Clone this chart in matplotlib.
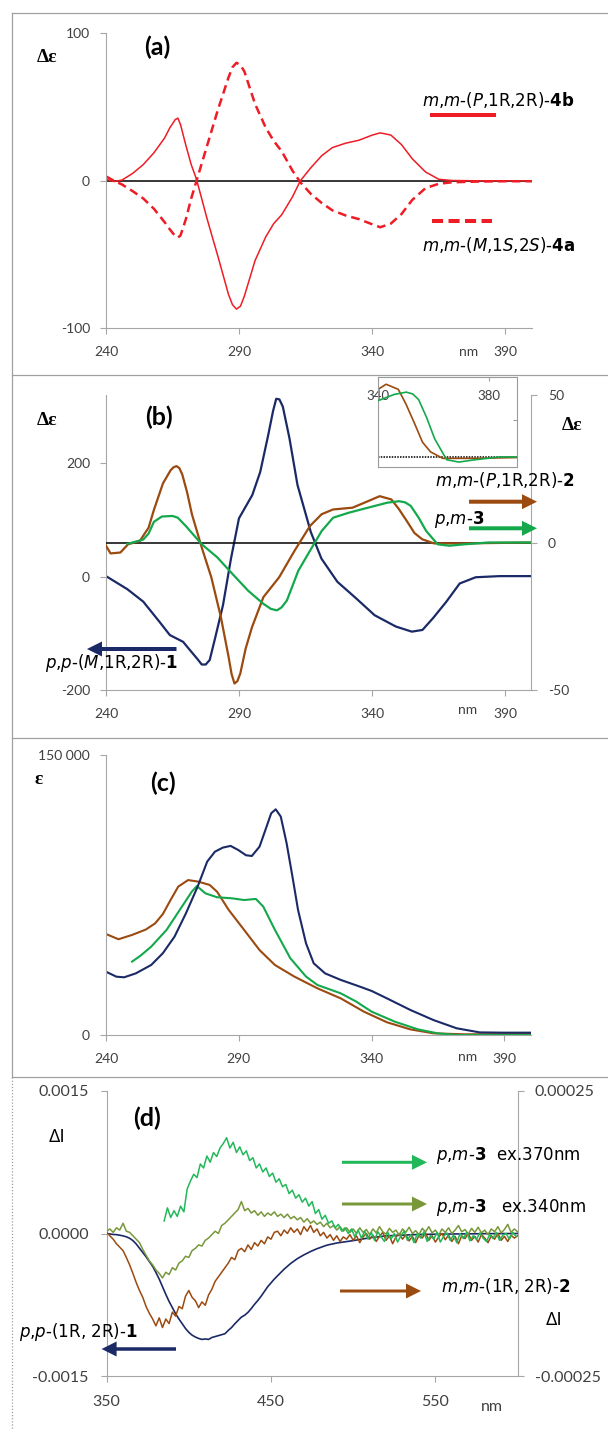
import numpy as np
import matplotlib
matplotlib.use('Agg')
import matplotlib.pyplot as plt
from matplotlib.lines import Line2D
from matplotlib.patches import FancyArrowPatch
from matplotlib.ticker import StrMethodFormatter

# ---- (a) CD, m,m-4b (solid) and m,m-4a (dashed)
wl_a = [240, 243, 246, 250, 254, 258, 262, 264, 266, 267, 268, 270, 272, 274, 278, 282,
        286, 287.5, 289, 290.5, 292, 296, 300, 303, 306, 310, 313, 317, 321, 325, 330,
        335, 340, 343, 347, 351, 355, 360, 365, 370, 380, 390, 400]
cd_4b = [1, -0.5, 0.5, 5, 11, 19, 29, 36, 41.5, 42.5, 38, 24, 11, 1, -26, -51,
         -77, -84, -87, -85, -78, -54, -38, -29, -23, -11, 0, 9, 17, 22.5, 25.5,
         27.5, 31, 32.5, 31, 24.5, 15, 6, 1, 0.2, 0, 0, 0]
cd_4a = [3, 0, -2.5, -7, -12, -19, -28, -33, -37.5, -38.5, -37, -26, -12, 0, 24, 48,
         70, 77, 80, 78.5, 74, 52, 36, 27, 20, 7, -1, -9, -15, -20, -23.5,
         -26, -29.5, -31.5, -29, -22.5, -13, -5, -2, -1, -0.5, -0.3, -0.3]

# ---- (b) CD, p,p-1 (left axis), m,m-2 and p,m-3 (right axis)
wl_b1 = [240, 248, 254, 260, 264, 269, 272, 274.5, 276, 277.5, 279, 281, 284, 287, 290,
         295, 298, 301, 302.8, 304, 305.2, 306.5, 309, 312, 317, 321, 327, 334, 341, 349,
         355, 359, 363, 368, 373, 379, 388, 400]
cd_1 = [1, -22, -44, -79, -103, -115, -132, -146, -155, -155, -147, -109, -50, 32, 103,
        144, 185, 250, 292, 314, 313, 300, 244, 162, 79, 32, -9, -38, -68, -88,
        -97, -94, -73, -44, -12, -1, 1, 1]
wl_b2 = [240, 241.7, 245.4, 248.3, 252.7, 256, 258, 261.4, 264.3, 265.4, 266.5, 267.6,
         268.7, 270.5, 272.3, 276, 279.6, 283.2, 286.1, 287.2, 288.3, 289.4, 290.5, 292.5,
         294.9, 299.2, 305.1, 310.9, 316.7, 321.1, 325.4, 332.7, 338.5, 342.9, 347.3, 350,
         353.1, 356, 358.9, 363.3, 374.9, 400]
cd_2 = [-1.1, -3.7, -3.4, -0.6, 0.5, 5, 11, 20, 24.5, 25.5, 25.9, 25.2,
        23, 17, 9.6, -1.7, -11.8, -25.3, -38.8, -44.5, -47.8, -47, -44.4, -36,
        -28.7, -18.5, -11.8, -2.8, 5.6, 9.6, 11.2, 11.8, 14, 15.7, 14.6, 11.5,
        7.3, 3.2, 1.1, -0.3, -0.3, 0]
wl_b3 = [248, 252, 254, 256, 258, 261, 265, 267, 270, 273, 276, 281.8, 287.6, 293.4,
         299.2, 302, 304.3, 306, 308, 310, 312.3, 316.7, 321.1, 325.4, 331.3, 338.5,
         345.8, 350.2, 352.5, 354.6, 357.5, 360.4, 364.7, 369.1, 374.9, 383.7, 400]
cd_3 = [-0.5, 0.5, 1, 3, 7, 8.8, 9, 8.4, 5.6, 2.5, -0.6, -5, -10.7, -16.3,
        -20.8, -22.5, -23, -22, -19.7, -15, -9.6, -2.8, 3.9, 8.4, 10.1, 11.8,
        13.5, 14, 13.6, 12.4, 8.5, 3.9, -0.6, -1.1, -0.6, 0, 0]

# ---- (c) UV absorption
wl_c1 = [240, 243.9, 246.8, 251.2, 257, 261.4, 265.8, 270.1, 274.5, 278.1, 281, 284,
         286.9, 289.8, 292.7, 294.9, 297.8, 300, 302.2, 303.9, 305.8, 308, 310.2, 312.3,
         315.3, 318.2, 322.5, 328.4, 335.6, 340, 345.8, 354.6, 363.3, 372, 380.7, 389.5, 400]
eps_1 = [33900, 31250, 30900, 33000, 37500, 43800, 52700, 65200, 79500, 92900, 98200, 100400,
         101300, 99100, 96300, 95900, 100900, 109800, 118800, 120900, 117000, 102700, 84800, 67000,
         49100, 38400, 33000, 29500, 25900, 23600, 19600, 13400, 8000, 3600, 1400, 1250, 1250]
wl_c2 = [240, 244.7, 249.8, 255, 258.5, 261.4, 264.3, 267.2, 270.9, 274.6, 279, 281.8,
         286.2, 292, 297.8, 303.6, 310.9, 319.6, 328.4, 337.1, 345.8, 354.6, 363.3, 374.9, 400]
eps_2 = [54100, 51300, 53600, 56500, 59800, 64800, 72300, 79500, 83000, 82200, 80400, 76800,
         67000, 56300, 45500, 37500, 31300, 25000, 19600, 12500, 6800, 3000, 900, 360, 540]
wl_c3 = [249.8, 253, 257, 262.8, 268.6, 272.3, 274.2, 277.4, 281.8, 287.6, 292, 296.4,
         299.2, 303.6, 309.4, 315.3, 319.6, 328.4, 334.2, 340, 348.8, 357.5, 364.8, 372, 400]
eps_3 = [39300, 42500, 47300, 56300, 68800, 76800, 79800, 75900, 73800, 73200, 72300, 72900,
         68800, 56300, 41100, 31300, 26800, 22300, 17900, 12500, 7100, 3000, 900, 0, 0]

# ---- (d) CPL, values in units of 1e-6
# p,m-3 ex.370nm, 385..599 nm every 2 nm
dI_3_370 = [22, 45, 28, 40, 30, 48, 38, 78, 92, 104,
            98, 122, 115, 136, 125, 142, 135, 150, 158, 168,
            150, 160, 142, 152, 138, 145, 128, 133, 115, 122,
            108, 115, 100, 106, 90, 96, 82, 86, 70, 76,
            62, 68, 55, 62, 48, 56, 35, 42, 25, 32,
            18, 22, 10, 16, 4, 10, 0, 8, -6, 6,
            -8, 4, -10, 2, -12, 3, -6, -14, 2, -10,
            0, -15, -4, 4, -12, -2, -16, 0, -8, 3,
            -14, -4, -10, 2, -15, -5, 1, -12, -3, -16,
            0, -9, 2, -13, -4, -10, 1, -8, -14, -2,
            -9, 2, -12, -3, 0, -10, 2, -5]
# p,m-3 ex.340nm, 350..600 nm every 2 nm
dI_3_340 = [4, 8, 2, 10, 6, 18, 4, 2, -4, -10,
            -16, -28, -38, -48, -55, -64, -70, -78, -68, -72,
            -60, -64, -52, -48, -40, -42, -30, -26, -20, -22,
            -12, -8, -2, 4, 0, 14, 18, 24, 30, 36,
            42, 56, 40, 44, 36, 40, 32, 38, 30, 36,
            32, 38, 30, 34, 28, 34, 26, 30, 24, 28,
            20, 26, 18, 22, 16, 20, 12, 18, 10, 14,
            6, 12, 4, 10, 2, 8, 0, 10, 2, 7,
            -2, 8, 1, 12, 3, -1, 9, 2, 6, -3,
            8, 2, 11, 0, 5, -2, 9, 3, 12, 1,
            6, -3, 8, 2, 10, 0, 6, 14, 3, 7,
            -1, 9, 2, 11, 1, 6, -2, 8, 3, 12,
            1, 7, 16, 2, 8, 3]
# m,m-2, 350..600 nm every 2 nm
dI_2 = [2, -4, -10, -18, -24, -30, -42, -55, -70, -86,
        -100, -112, -128, -140, -150, -162, -148, -165, -150, -158,
        -138, -145, -128, -132, -110, -100, -112, -118, -130, -120,
        -126, -108, -98, -84, -76, -68, -60, -52, -42, -46,
        -30, -26, -32, -20, -28, -16, -22, -12, -18, -6,
        -10, 2, 4, -4, 6, 0, 10, 2, 8, -2,
        12, 4, 14, 2, 8, -4, 2, -8, -2, -12,
        -4, -14, -6, -10, -2, -12, -4, -16, -6, 0,
        -10, -3, -14, -5, 2, -12, -4, -18, -6, 0,
        -10, -2, -13, -5, -16, -3, -8, 1, -12, -4,
        -15, -6, 0, -11, -3, -14, -5, -18, -4, -9,
        0, -12, -5, -15, -2, -8, -16, -4, -10, 0,
        -12, -5, -14, -3, -8, -4]
# p,p-1 (left axis)
wl_d1 = [350, 352, 354, 356, 358, 360, 362, 364, 366, 368,
         370, 372, 374, 376, 378, 380, 382, 384, 386, 388,
         390, 392, 394, 396, 398, 400, 402, 404, 406, 408,
         410, 412, 414, 416, 418, 420, 422, 424, 426, 428,
         430, 432, 434, 436, 438, 440, 442, 444, 446, 448,
         450, 452, 454, 456, 458, 460, 462, 464, 466, 468,
         470, 472, 474, 476, 478, 480, 482, 484, 486, 488,
         490, 492, 494, 496, 498, 500, 510, 520, 540, 560, 580, 600]
dI_1 = [0, -5, -10, -12, -18, -25, -35, -50, -75, -110,
        -155, -200, -245, -295, -345, -410, -480, -560, -640, -715,
        -780, -845, -900, -950, -1000, -1040, -1070, -1090, -1105, -1115,
        -1110, -1115, -1095, -1085, -1075, -1065, -1055, -1020, -990, -950,
        -915, -880, -860, -830, -790, -745, -705, -660, -610, -560,
        -520, -480, -445, -410, -375, -345, -315, -290, -265, -245,
        -225, -208, -190, -175, -160, -148, -135, -123, -115, -108,
        -100, -95, -90, -85, -80, -75, -45, -25, -10, -5, -2, 0]

W, H = 608, 1430
RED = '#ee1c25'
NAVY = '#1b2a66'
BROWN = '#9b4a10'
GREEN = '#14a84c'
GREEN_D = '#22b85a'
OLIVE = '#78983a'
AXC = '#a6a6a6'
TXT = '#404040'
FRAME = '#a0a0a0'

plt.rcParams['font.family'] = ['Lato', 'DejaVu Sans']
plt.rcParams['axes.unicode_minus'] = False
plt.rcParams['mathtext.fontset'] = 'dejavusans'

fig = plt.figure(figsize=(W / 100, H / 100), dpi=100)
fig.patch.set_facecolor('white')


def fx(x):
    return x / W


def fy(y):
    return 1 - y / H


def add_ax(l, t, r, b):
    return fig.add_axes([fx(l), fy(b), (r - l) / W, (b - t) / H])


def style(ax, size=10, xpad=8.5, ypad=7.2):
    ax.set_facecolor('none')
    ax.spines['top'].set_visible(False)
    ax.spines['right'].set_visible(False)
    ax.spines['left'].set_color(AXC)
    ax.spines['bottom'].set_color(AXC)
    ax.tick_params(colors=AXC, labelcolor=TXT, labelsize=size, length=4.3, width=0.8)
    ax.tick_params(axis='x', pad=xpad)
    ax.tick_params(axis='y', pad=ypad)


def style_right(ax2, size=10, pad=7.6):
    for s in ['top', 'left', 'bottom']:
        ax2.spines[s].set_visible(False)
    ax2.spines['right'].set_color(AXC)
    ax2.tick_params(axis='y', colors=AXC, labelcolor=TXT, labelsize=size,
                    length=4.3, width=0.8, pad=pad)


def text(x, y, s, size=12, ha='left', **kw):
    fig.text(fx(x), fy(y), s, ha=ha, va='center', fontsize=size, **kw)


def arrow(x0, x1, y, color, tail=4, head=15):
    fig.add_artist(FancyArrowPatch(
        (fx(x0), fy(y)), (fx(x1), fy(y)), transform=fig.transFigure,
        arrowstyle=f'simple,head_length={head},head_width={head},tail_width={tail}',
        mutation_scale=0.72, color=color, shrinkA=0, shrinkB=0, lw=0))


# panel frames
for yy in [13, 375, 738, 1077]:
    fig.add_artist(Line2D([fx(11.5), 1], [fy(yy)] * 2, color=FRAME, lw=0.9))
fig.add_artist(Line2D([fx(11.5)] * 2, [fy(13), fy(1077)], color=FRAME, lw=0.9))
fig.add_artist(Line2D([fx(11.5)] * 2, [fy(1077), fy(1430)], color=FRAME, lw=0.9,
                      ls=(0, (1, 1.5))))

LAB = dict(family='DejaVu Sans', color='black')
PANEL = dict(family='Lato', weight='bold', size=18)
DEPS = dict(family='Liberation Serif', weight='bold', size=14, ha='center')

# ---------------- (a)
ax = add_ax(106, 33.3, 532, 328.3)
style(ax)
ax.axhline(0, color='black', lw=1.1, zorder=1)
ax.plot(wl_a, cd_4b, color=RED, lw=1.1, zorder=2)
ax.plot(wl_a, cd_4a, color=RED, lw=1.8, ls=(0, (3.5, 2)), zorder=2)
ax.set_xlim(240, 400)
ax.set_ylim(-100, 100)
ax.set_xticks([240, 290, 340, 390])
ax.set_yticks([-100, 0, 100])
text(157, 47, '(a)', ha='center', **PANEL)
text(47, 58, 'Δε', **DEPS)
text(469, 352, 'nm', size=10, ha='center', color=TXT)
text(422, 100, r'$\mathit{m}$,$\mathit{m}$-($\mathit{P}$,1R,2R)-$\mathbf{4b}$', **LAB)
text(422, 245, r'$\mathit{m}$,$\mathit{m}$-($\mathit{M}$,1$\mathit{S}$,2$\mathit{S}$)-$\mathbf{4a}$',
     **LAB)
fig.add_artist(Line2D([fx(432), fx(494)], [fy(115)] * 2, color=RED, lw=2.9))
fig.add_artist(Line2D([fx(432), fx(492)], [fy(221)] * 2, color=RED, lw=2.9,
                      ls=(0, (2.75, 1.35))))

# ---------------- (b)
ax = add_ax(106, 395, 531.5, 690)
style(ax)
ax2 = ax.twinx()
style_right(ax2)
ax.plot(wl_b1, cd_1, color=NAVY, lw=1.6)
ax2.axhline(0, color='black', lw=1.1, zorder=1)
ax2.plot(wl_b2, cd_2, color=BROWN, lw=1.6, zorder=2)
ax2.plot(wl_b3, cd_3, color=GREEN, lw=1.6, zorder=3)
ax.set_xlim(240, 400)
ax.set_ylim(-200, 320.7)
ax2.set_ylim(-50, 50)
ax.set_xticks([240, 290, 340, 390])
ax.set_yticks([-200, 0, 200])
ax2.set_yticks([-50, 0, 50])
text(159, 417, '(b)', ha='center', **PANEL)
text(47, 421, 'Δε', **DEPS)
text(572, 426, 'Δε', **DEPS)
text(468, 710, 'nm', size=10, ha='center', color=TXT)
text(435, 480, r'$\mathit{m}$,$\mathit{m}$-($\mathit{P}$,1R,2R)-$\mathbf{2}$', **LAB)
text(434, 520, r'$\mathit{p}$,$\mathit{m}$-$\mathbf{3}$', **LAB)
text(45, 663, r'$\mathit{p}$,$\mathit{p}$-($\mathit{M}$,1R,2R)-$\mathbf{1}$', **LAB)
arrow(469, 537, 501.7, BROWN)
arrow(469, 537, 528.3, GREEN)
arrow(176.5, 87, 649, NAVY)

# inset of (b)
axi = add_ax(378, 377.3, 517, 466.7)
axi.set_facecolor('none')
axi.axhline(0, color='black', lw=1.1, ls=(0, (1, 0.8)), zorder=1)
axi.plot(wl_b2, cd_2, color=BROWN, lw=1.2, zorder=2)
axi.plot(wl_b3, cd_3, color=GREEN, lw=1.2, zorder=3)
axi.set_xlim(340, 390)
axi.set_ylim(-2.1, 17.2)
for s in axi.spines.values():
    s.set_color('#9a9a9a')
    s.set_linestyle((0, (1, 1)))
    s.set_linewidth(0.8)
axi.set_xticks([340, 380])
axi.set_yticks([8])
axi.tick_params(axis='x', top=True, bottom=False, labeltop=True, labelbottom=False,
                direction='in', length=3, pad=-18, colors='#a0a0a0',
                labelcolor=TXT, labelsize=9.5)
axi.tick_params(axis='y', left=False, right=True, labelleft=False, direction='in',
                length=3, colors='#a0a0a0')

# ---------------- (c)
ax = add_ax(106, 755, 531, 1035)
style(ax)
ax.plot(wl_c2, eps_2, color=BROWN, lw=1.5)
ax.plot(wl_c3, eps_3, color=GREEN, lw=1.5)
ax.plot(wl_c1, eps_1, color=NAVY, lw=1.5)
ax.set_xlim(240, 400)
ax.set_ylim(0, 150000)
ax.set_xticks([240, 290, 340, 390])
ax.set_yticks([0, 150000])
ax.set_yticklabels(['0', '150 000'])
text(163, 783, '(c)', ha='center', **PANEL)
text(39, 780, 'ε', **DEPS)
text(468, 1057, 'nm', size=10, ha='center', color=TXT)

# ---------------- (d)
ax = add_ax(106.6, 1091, 517.6, 1376)
style(ax, size=11.5, xpad=9.5, ypad=8.5)
ax2 = ax.twinx()
style_right(ax2, size=11.5, pad=8.2)
ax.plot(wl_d1, np.array(dI_1) * 1e-6, color=NAVY, lw=1.2)
ax2.plot(np.linspace(350, 600, len(dI_2)), np.array(dI_2) * 1e-6, color=BROWN, lw=1.1)
ax2.plot(np.linspace(350, 600, len(dI_3_340)), np.array(dI_3_340) * 1e-6, color=OLIVE, lw=1.1)
ax2.plot(np.linspace(385, 599, len(dI_3_370)), np.array(dI_3_370) * 1e-6, color=GREEN_D, lw=1.1)
ax.set_xlim(350, 600)
ax.set_ylim(-0.0015, 0.0015)
ax2.set_ylim(-0.00025, 0.00025)
ax.set_xticks([350, 450, 550])
ax.set_yticks([-0.0015, 0, 0.0015])
ax.yaxis.set_major_formatter(StrMethodFormatter('{x:.4f}'))
ax2.set_yticks([-0.00025, 0.00025])
ax2.yaxis.set_major_formatter(StrMethodFormatter('{x:.5f}'))
text(147, 1118, '(d)', ha='center', **PANEL)
text(57, 1137, 'ΔI', size=14, ha='center', family='Open Sans', color='black')
text(554, 1320, 'ΔI', size=14, ha='center', family='Open Sans', color='black')
text(492, 1407, 'nm', size=11.5, ha='center', color=TXT)
text(436, 1155, r'$\mathit{p}$,$\mathit{m}$-$\mathbf{3}$  ex.370nm', **LAB)
text(436, 1207, r'$\mathit{p}$,$\mathit{m}$-$\mathbf{3}$   ex.340nm', **LAB)
text(441, 1286, r'$\mathit{m}$,$\mathit{m}$-(1R, 2R)-$\mathbf{2}$', **LAB)
text(19, 1332, r'$\mathit{p}$,$\mathit{p}$-(1R, 2R)-$\mathbf{1}$', **LAB)
arrow(342, 427, 1162.3, GREEN_D, tail=3, head=15)
arrow(342, 427, 1204, OLIVE, tail=3, head=15)
arrow(340, 421, 1291, BROWN, tail=3, head=15)
arrow(176, 101.6, 1349, NAVY, tail=3.5, head=15)

fig.savefig('out.png', dpi=100, facecolor='white')
